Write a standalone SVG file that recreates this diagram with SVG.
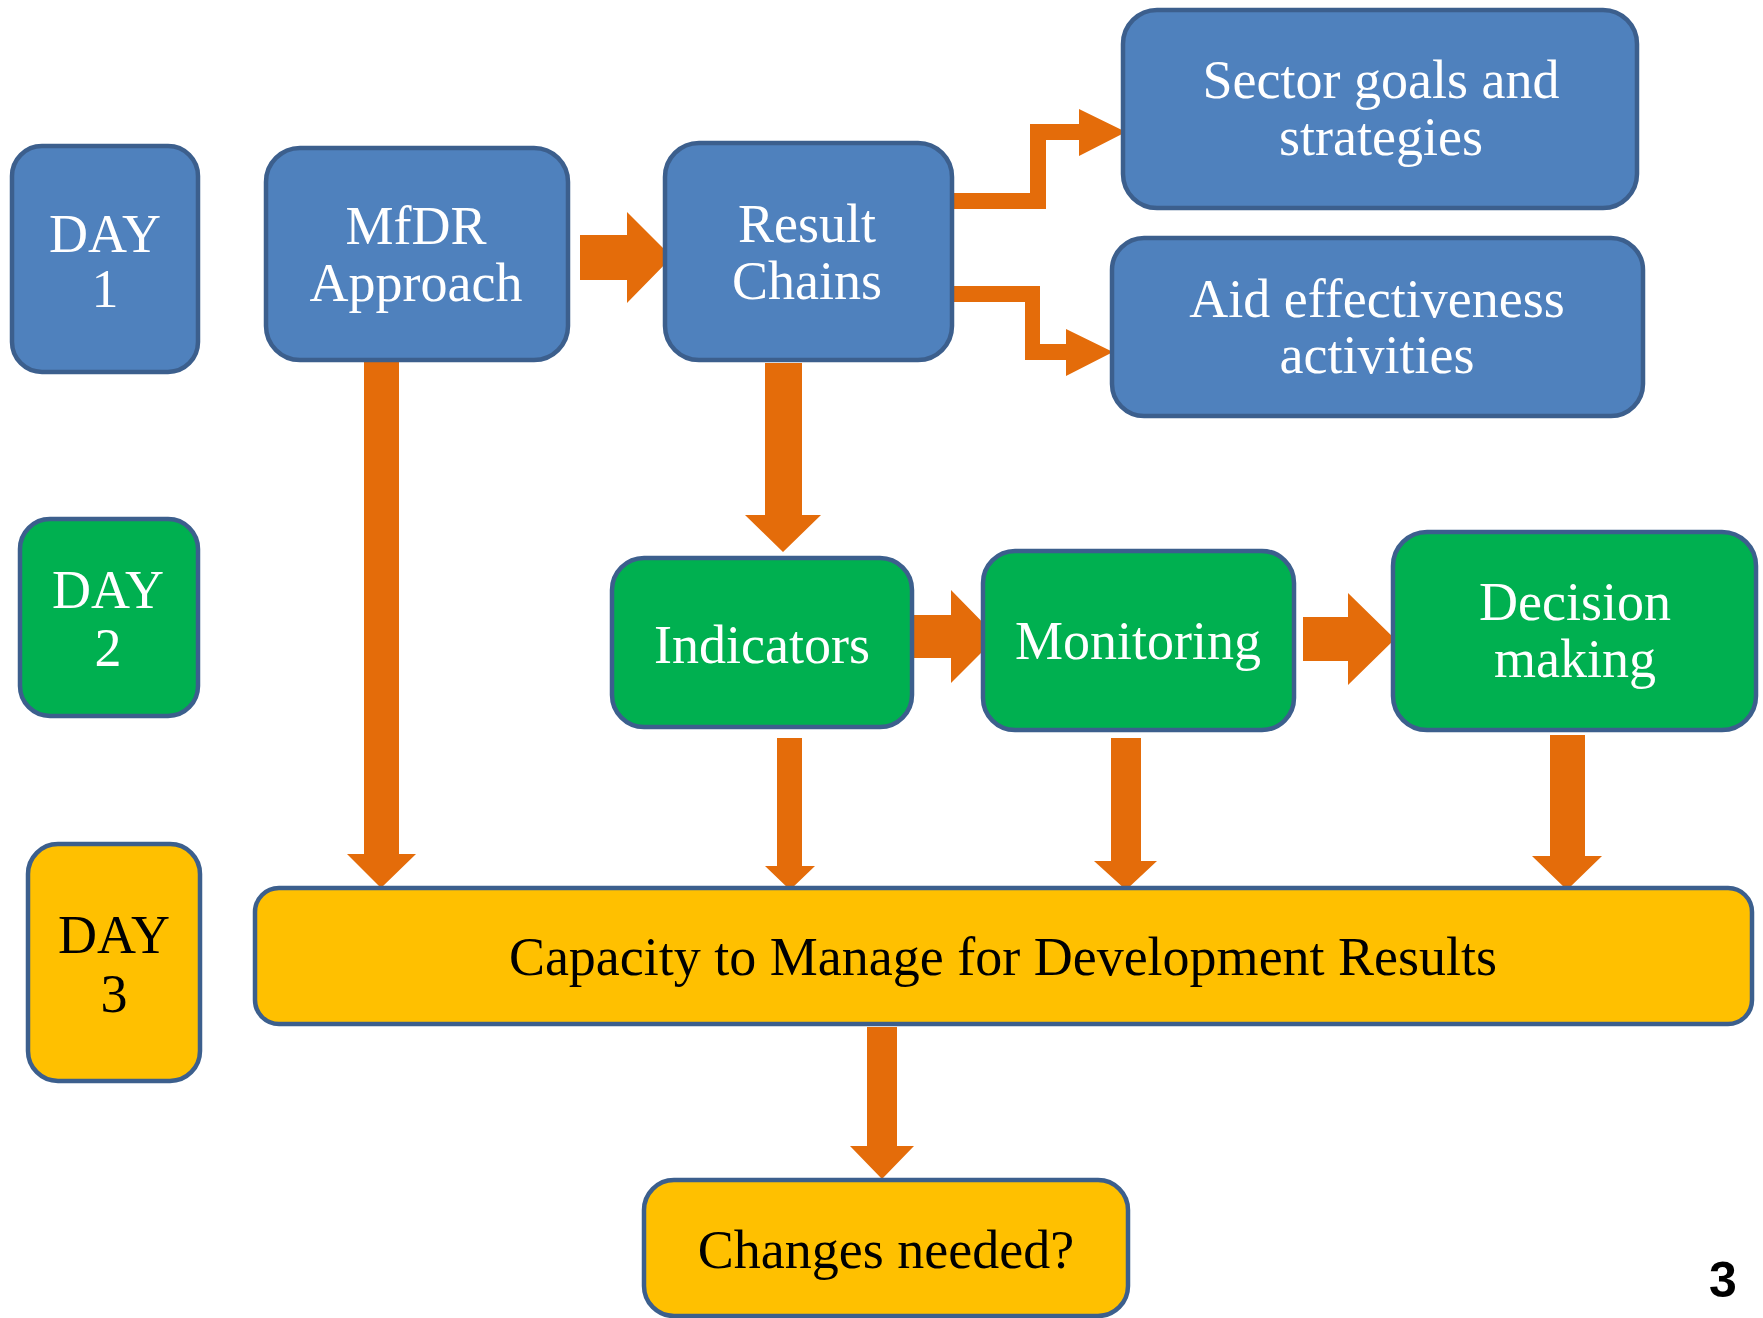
<svg xmlns="http://www.w3.org/2000/svg" width="1763" height="1318" viewBox="0 0 1763 1318">
<style>
.box{stroke:#3C5F8D;stroke-width:4.5}
.blue{fill:#4F81BD}
.green{fill:#00B050}
.yellow{fill:#FFC000}
.t{font-family:"Liberation Serif","Times New Roman",serif;font-size:54px;text-anchor:middle}
.w{fill:#FFFFFF}
.k{fill:#000000}
.arr{fill:#E46C0A;stroke:none}
</style>
<rect width="1763" height="1318" fill="#FFFFFF"/>
<g id="connectors">
  <!-- MfDR -> Result Chains -->
  <polygon class="arr" points="580,235 627,235 627,212 672,257 627,303 627,280 580,280"/>
  <!-- Result Chains -> Sector goals (elbow) -->
  <polygon class="arr" points="949,193 1030,193 1030,124 1079,124 1079,109 1126,132 1079,156 1079,140 1046,140 1046,209 949,209"/>
  <!-- Result Chains -> Aid effectiveness (elbow) -->
  <polygon class="arr" points="951,286 1040,286 1040,344 1066,344 1066,329 1113,352 1066,376 1066,360 1025,360 1025,302 951,302"/>
  <!-- Result Chains -> Indicators -->
  <polygon class="arr" points="765,363 802,363 802,515 821,515 783,552 745,515 765,515"/>
  <!-- MfDR -> Capacity -->
  <polygon class="arr" points="364,360 399,360 399,854 416,854 381,888 347,854 364,854"/>
  <!-- Indicators -> Monitoring -->
  <polygon class="arr" points="906,615 951,615 951,590 997,637 951,683 951,658 906,658"/>
  <!-- Monitoring -> Decision -->
  <polygon class="arr" points="1303,617 1348,617 1348,593 1395,639 1348,685 1348,661 1303,661"/>
  <!-- Indicators -> Capacity -->
  <polygon class="arr" points="777,738 802,738 802,866 815,866 790,890 765,866 777,866"/>
  <!-- Monitoring -> Capacity -->
  <polygon class="arr" points="1111,738 1141,738 1141,861 1157,861 1126,890 1094,861 1111,861"/>
  <!-- Decision -> Capacity -->
  <polygon class="arr" points="1550,735 1585,735 1585,856 1602,856 1567,890 1532,856 1550,856"/>
  <!-- Capacity -> Changes -->
  <polygon class="arr" points="867,1027 897,1027 897,1146 914,1146 882,1179 850,1146 867,1146"/>
</g>
<g id="day1">
  <rect class="box blue" x="12" y="146" width="186" height="226" rx="30"/>
  <text class="t w" x="105" y="252">DAY</text>
  <text class="t w" x="105" y="307">1</text>
</g>
<g id="day2">
  <rect class="box green" x="20" y="519" width="178" height="197" rx="30"/>
  <text class="t w" x="108" y="608">DAY</text>
  <text class="t w" x="108" y="666">2</text>
</g>
<g id="day3">
  <rect class="box yellow" x="28" y="844" width="172" height="237" rx="30"/>
  <text class="t k" x="114" y="953">DAY</text>
  <text class="t k" x="114" y="1012">3</text>
</g>
<g id="mfdr">
  <rect class="box blue" x="266" y="148" width="302" height="212" rx="34"/>
  <text class="t w" x="416" y="244">MfDR</text>
  <text class="t w" x="416" y="301">Approach</text>
</g>
<g id="result-chains">
  <rect class="box blue" x="665" y="143" width="287" height="217" rx="34"/>
  <text class="t w" x="807" y="242">Result</text>
  <text class="t w" x="807" y="299">Chains</text>
</g>
<g id="sector-goals">
  <rect class="box blue" x="1123" y="10" width="514" height="198" rx="34"/>
  <text class="t w" x="1381" y="98">Sector goals and</text>
  <text class="t w" x="1381" y="155">strategies</text>
</g>
<g id="aid-effectiveness">
  <rect class="box blue" x="1112" y="238" width="531" height="178" rx="32"/>
  <text class="t w" x="1377" y="317">Aid effectiveness</text>
  <text class="t w" x="1377" y="373">activities</text>
</g>
<g id="indicators">
  <rect class="box green" x="612" y="558" width="300" height="169" rx="32"/>
  <text class="t w" x="762" y="663">Indicators</text>
</g>
<g id="monitoring">
  <rect class="box green" x="983" y="551" width="311" height="179" rx="32"/>
  <text class="t w" x="1138" y="659">Monitoring</text>
</g>
<g id="decision-making">
  <rect class="box green" x="1393" y="532" width="363" height="198" rx="34"/>
  <text class="t w" x="1575" y="620">Decision</text>
  <text class="t w" x="1575" y="677">making</text>
</g>
<g id="capacity">
  <rect class="box yellow" x="255" y="888" width="1497" height="136" rx="24"/>
  <text class="t k" x="1003" y="975">Capacity to Manage for Development Results</text>
</g>
<g id="changes-needed">
  <rect class="box yellow" x="644" y="1180" width="484" height="136" rx="30"/>
  <text class="t k" x="886" y="1268">Changes needed?</text>
</g>
<text x="1723" y="1297" font-family="Liberation Sans, Arial, sans-serif" font-size="50" font-weight="bold" text-anchor="middle" fill="#000000">3</text>
</svg>
